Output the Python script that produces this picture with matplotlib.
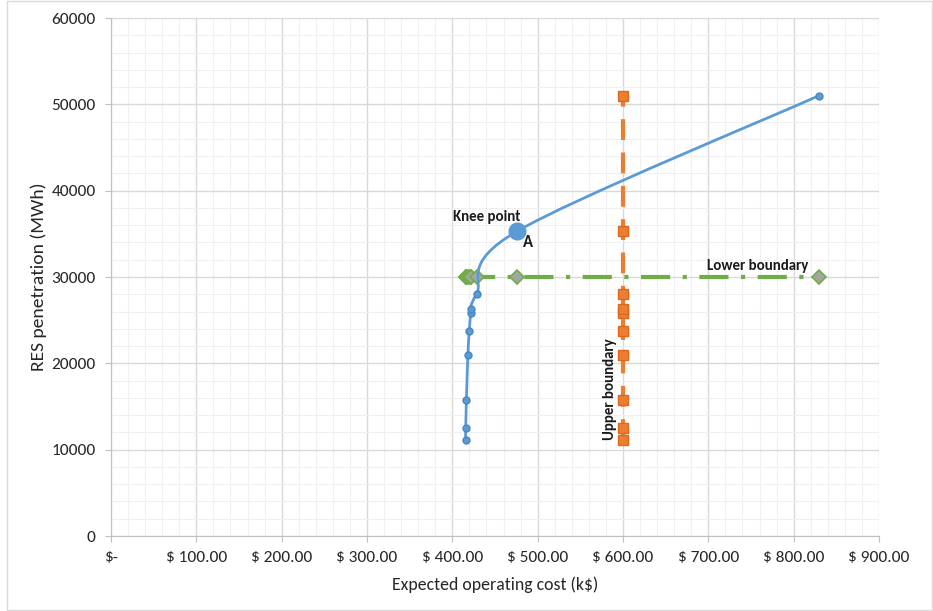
import matplotlib.pyplot as plt
from matplotlib.path import Path
from matplotlib.patches import PathPatch, Rectangle
from matplotlib.ticker import MultipleLocator, FuncFormatter

plt.rcParams['font.family'] = ['Carlito', 'Lato', 'DejaVu Sans']

# Pareto front: expected operating cost (k$) vs RES penetration (MWh)
cost = [415.5, 415.7, 416.5, 418.2, 419.8, 421.4, 421.6, 428.4, 476.2, 829.3]
res = [11120, 12500, 15750, 20960, 23740, 25790, 26250, 28020, 35320, 50990]

knee_cost = 476.2
knee_res = 35320

upper_cost = 600.0   # upper boundary on cost
lower_res = 30000.0  # lower boundary on RES

blue = '#5B9BD5'
orange = '#ED7D31'
green = '#70AD47'


def smooth_path(xs, ys):
    # Excel-style smoothed line: cubic Bezier segments through the points
    verts = [(xs[0], ys[0])]
    codes = [Path.MOVETO]
    n = len(xs)
    for i in range(n - 1):
        x0, y0 = (xs[i - 1], ys[i - 1]) if i > 0 else (xs[i], ys[i])
        x1, y1 = xs[i], ys[i]
        x2, y2 = xs[i + 1], ys[i + 1]
        x3, y3 = (xs[i + 2], ys[i + 2]) if i + 2 < n else (x2, y2)
        c1 = (x1 + (x2 - x0) / 6, y1 + (y2 - y0) / 6)
        c2 = (x2 - (x3 - x1) / 6, y2 - (y3 - y1) / 6)
        verts += [c1, c2, (x2, y2)]
        codes += [Path.CURVE4] * 3
    return Path(verts, codes)


fig = plt.figure(figsize=(9.33, 6.11), dpi=100)
ax = fig.add_axes([111 / 933, 1 - 536 / 611, 768 / 933, 518 / 611])

# chart frame
fig.patches.append(Rectangle((7 / 933, 1 / 611), 925 / 933, 609 / 611,
                             transform=fig.transFigure, fill=False,
                             edgecolor='#d9d9d9', linewidth=1))

ax.set_xlim(0, 900)
ax.set_ylim(0, 60000)
ax.xaxis.set_major_locator(MultipleLocator(100))
ax.xaxis.set_minor_locator(MultipleLocator(20))
ax.yaxis.set_major_locator(MultipleLocator(10000))
ax.yaxis.set_minor_locator(MultipleLocator(2000))
ax.grid(which='major', color='#d9d9d9', linewidth=1)
ax.grid(which='minor', color='#f0f0f0', linewidth=0.8)
ax.set_axisbelow(True)

for s in ['top', 'right']:
    ax.spines[s].set_visible(False)
for s in ['left', 'bottom']:
    ax.spines[s].set_color('#bfbfbf')
ax.tick_params(which='major', length=4, color='#bfbfbf', labelsize=12.5,
               labelcolor='#262626')
ax.tick_params(which='minor', length=0)
ax.tick_params(axis='x', pad=7)
ax.tick_params(axis='y', pad=7)


def money(v, pos):
    return '$-' if v == 0 else '$ %.2f' % v


ax.xaxis.set_major_formatter(FuncFormatter(money))
ax.yaxis.set_major_formatter(FuncFormatter(lambda v, p: '%d' % v))

# lower boundary (green dash-dot)
ax.plot(cost, [lower_res] * len(cost), color=green, linewidth=3,
        dashes=(7, 3, 1, 3), marker='D', markersize=7,
        markerfacecolor='#a5a5a5', markeredgecolor=green,
        markeredgewidth=1.2, zorder=3)

# upper boundary (orange dashed)
ax.plot([upper_cost] * len(res), res, color=orange, linewidth=3,
        dashes=(5, 3), marker='s', markersize=7,
        markerfacecolor=orange, markeredgecolor='#d86a20',
        markeredgewidth=1, zorder=4)

# pareto curve (smoothed)
ax.add_patch(PathPatch(smooth_path(cost, res), facecolor='none',
                       edgecolor=blue, linewidth=2, zorder=5))
ax.plot(cost, res, linestyle='none', marker='o', markersize=5,
        color=blue, markeredgecolor='#4a86c0', zorder=6)
ax.plot([knee_cost], [knee_res], marker='o', markersize=12,
        color=blue, linestyle='none', zorder=7)

ax.text(knee_cost + 3, knee_res + 800, 'Knee point', ha='right',
        va='bottom', fontsize=10.7, fontweight='bold', color='#1a1a1a')
ax.text(knee_cost + 6, knee_res - 300, 'A', ha='left', va='top',
        fontsize=12, fontweight='bold', color='#1a1a1a')
ax.text(817, lower_res + 500, 'Lower boundary', ha='right', va='bottom',
        fontsize=10.7, fontweight='bold', color='#1a1a1a')
ax.text(585, 17000, 'Upper boundary', ha='center', va='center',
        rotation=90, fontsize=10.7, fontweight='bold', color='#1a1a1a')

ax.set_xlabel('Expected operating cost (k$)', fontsize=12.8,
              color='#262626', labelpad=8)
ax.set_ylabel('RES penetration (MWh)', fontsize=14, color='#262626',
              labelpad=3)

fig.savefig('out.png', dpi=100)
